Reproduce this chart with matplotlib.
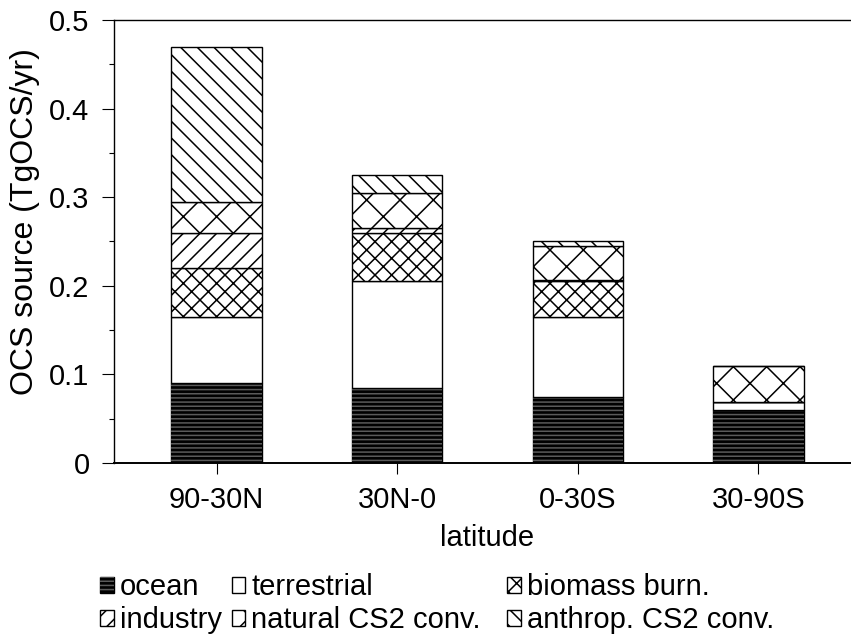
import numpy as np
import matplotlib
matplotlib.use('Agg')
import matplotlib.pyplot as plt
from matplotlib.ticker import MultipleLocator, FormatStrFormatter
from matplotlib.legend_handler import HandlerTuple

# ===== 字体与基本设置 =====
plt.rcParams['font.family'] = ['Liberation Sans', 'DejaVu Sans']
plt.rcParams['hatch.linewidth'] = 0.55

# ===== 数据 =====
regions = ['90-30N', '30N-0', '0-30S', '30-90S']
ocean = [0.090, 0.085, 0.075, 0.060]
terrestrial = [0.075, 0.120, 0.090, 0.009]
biomass = [0.055, 0.055, 0.040, 0.0]
industry = [0.040, 0.005, 0.001, 0.0]
natural_cs2 = [0.035, 0.040, 0.039, 0.041]
anthrop_cs2 = [0.175, 0.020, 0.005, 0.0]

labels = ['ocean', 'terrestrial', 'biomass burn.', 'industry',
          'natural CS2 conv.', 'anthrop. CS2 conv.']

# ===== 作图 =====
DPI = 200
FS = 10.5
fig = plt.figure(figsize=(851 / DPI, 638 / DPI), dpi=DPI)
ax = fig.add_axes([114 / 851, 1 - 463 / 638, 747 / 851, 443 / 638])

x = np.arange(len(regions))
w = 0.5
bottom = np.zeros(len(regions))

# ocean: black fill plus grey noise stripes
b_ocean = ax.bar(x, ocean, w, bottom=bottom, color='black', edgecolor='black', linewidth=0.5)
b_noise = ax.bar(x, ocean, w, bottom=bottom, facecolor='none', edgecolor='#5a5a5a',
                 hatch='--------', linewidth=0)
bottom += ocean

segs = [
    (terrestrial, ''),
    (biomass, 'xxxx'),
    (industry, '////'),
    (natural_cs2, 'xx'),
    (anthrop_cs2, '\\\\\\\\'),
]
handles = [(b_ocean, b_noise)]
for vals, h in segs:
    bars = ax.bar(x, vals, w, bottom=bottom, facecolor='white', edgecolor='black',
                  hatch=h, linewidth=0.5)
    handles.append(bars)
    bottom += vals

ax.set_xlim(-0.568, 3.568)
ax.set_ylim(0, 0.5)
ax.set_xticks(x)
ax.set_xticklabels(regions)
ax.yaxis.set_major_locator(MultipleLocator(0.1))
ax.yaxis.set_minor_locator(MultipleLocator(0.05))
ax.yaxis.set_major_formatter(FormatStrFormatter('%g'))

ax.tick_params(axis='y', which='major', direction='out', length=4.3, width=0.4,
               labelsize=FS, pad=4.5)
ax.tick_params(axis='y', which='minor', direction='out', length=1.8, width=0.4)
ax.tick_params(axis='x', direction='out', length=4.0, width=0.4, labelsize=FS, pad=4.3)

ax.spines['right'].set_visible(False)
for s in ['left', 'top']:
    ax.spines[s].set_linewidth(0.5)
ax.spines['bottom'].set_linewidth(0.7)

ax.set_ylabel('OCS source (TgOCS/yr)', fontsize=11.5)
ax.yaxis.set_label_coords(-0.099, 0.545)
ax.set_xlabel('latitude', fontsize=FS)
ax.xaxis.set_label_coords(0.499, -0.137)

# legend: two blocks so the third column lands where the reference has it
leg_kw = dict(loc='upper left', frameon=False, fontsize=FS, borderpad=0, borderaxespad=0,
              handlelength=0.47, handleheight=0.47, handletextpad=0.2,
              columnspacing=0.35, labelspacing=0.17,
              handler_map={tuple: HandlerTuple(ndivide=1)})
top_y = 1 - 573 / 638
left_idx = [0, 3, 1, 4]   # ocean, industry | terrestrial, natural
fig.legend([handles[i] for i in left_idx], [labels[i] for i in left_idx],
           bbox_to_anchor=(100 / 851, top_y), ncol=2, **leg_kw)
right_idx = [2, 5]        # biomass, anthrop
fig.legend([handles[i] for i in right_idx], [labels[i] for i in right_idx],
           bbox_to_anchor=(507 / 851, top_y), ncol=1, **leg_kw)

fig.savefig('out.png', dpi=DPI)
